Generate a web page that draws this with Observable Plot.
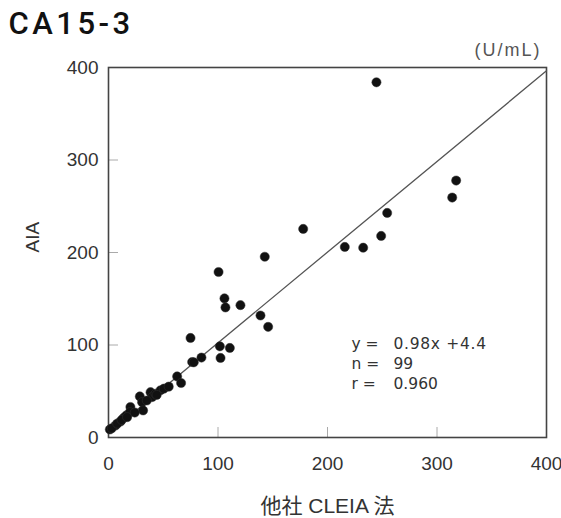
<!DOCTYPE html>
<html><head><meta charset="utf-8">
<script src="https://cdn.jsdelivr.net/npm/d3@7"></script>
<script src="https://cdn.jsdelivr.net/npm/@observablehq/plot@0.6"></script>
<style>
body{margin:0;background:#fff;}
#c{position:relative;width:561px;height:518px;}
</style>
</head><body><div id="c"></div>
<script>
const xValues = [1.2,6.4,11,14,16.4,20,19.5,28.6,30.7,31.6,38.4,39.9,42.9,47.5,50.5,62.7,66.3,76.4,
  74.9,101.7,110.8,102.3,84.9,77.9,
  244.7,317.5,313.9,254.5,249,232.6,215.8,177.8,142.7,100.5,105.9,106.8,120.5,138.8,145.8,
  3,8,12,17,24,35,44,55];
const yValues = [8.7,13,17.3,21.4,24,33,27.4,44.4,38.2,29.3,49,43.7,47.3,51,52.8,66,58.9,81.6,
  107.6,98.6,96.8,86,86.4,81.3,
  384,277.8,259.4,242.8,217.9,205.2,206,225.5,195.4,178.9,150.4,140.6,143.1,131.9,119.6,
  10,15,19,22,27,40,46,55];
const xTicks = [0,100,200,300,400];
const yTicks = [0,100,200,300,400];
const slope = 0.98, intercept = 4.4;
const statNames = ["y =", "n =", "r ="];
const statValues = ["0.98x +4.4", "99", "0.960"];
const title = "CA15-3";
const unit = "(U/mL)";
const xLabel = "他社 CLEIA 法";
const yLabel = "AIA";

const pts = xValues.map((x,i)=>({x, y:yValues[i]}));
const font = "'Liberation Sans', Arial, sans-serif";
const statFont = "'DejaVu Sans', sans-serif";

const chart = Plot.plot({
  width: 561, height: 518,
  marginLeft: 108, marginRight: 15, marginTop: 67, marginBottom: 81,
  style: {fontFamily: font, fontSize: "19px", color: "#333", background: "#fff", overflow: "visible"},
  x: {domain: [0,400], ticks: xTicks},
  y: {domain: [0,400], ticks: yTicks},
  marks: [
    Plot.axisX({ticks: xTicks, tickSize: -10, tickPadding: 29, stroke: "#aaa", fontSize: 19, label: null, fill: "#333"}),
    Plot.axisY({ticks: yTicks, tickSize: -10, tickPadding: 20, stroke: "#aaa", fontSize: 19, label: null, fill: "#333"}),
    Plot.frame({stroke: "#444", strokeWidth: 1.6}),
    Plot.line([xTicks[0], xTicks[xTicks.length-1]], {x: d=>d, y: d=>slope*d+intercept, stroke: "#555", strokeWidth: 1.3}),
    Plot.dot(pts, {x: "x", y: "y", r: 4.6, fill: "#111", stroke: "#333", strokeWidth: 0.5}),
    Plot.text([statNames.join("\n")], {frameAnchor: "top-left", dx: 243, dy: 295, lineAnchor: "middle", textAnchor: "start", lineHeight: 1.29, fontSize: 15.5, fill: "#333", fontFamily: statFont}),
    Plot.text([statValues.join("\n")], {frameAnchor: "top-left", dx: 285, dy: 295, lineAnchor: "middle", textAnchor: "start", lineHeight: 1.29, fontSize: 15.5, fill: "#333", fontFamily: statFont}),
    Plot.text([title], {frameAnchor: "top-left", dx: -100, dy: -43, textAnchor: "start", lineAnchor: "middle", fontSize: 31, fontWeight: 500, fill: "#111", fontFamily: "Roboto, 'Liberation Sans', sans-serif"}),
    Plot.text([unit], {frameAnchor: "top-right", dx: -5, dy: -17, textAnchor: "end", lineAnchor: "middle", fontSize: 18, fill: "#555"}),
    Plot.text([xLabel], {frameAnchor: "bottom", dy: 69, lineAnchor: "middle", fontSize: 21, fill: "#333", fontFamily: "'Liberation Sans', 'Noto Sans CJK JP', sans-serif"}),
    Plot.text([yLabel], {frameAnchor: "left", dx: -76, rotate: -90, lineAnchor: "middle", fontSize: 19, fill: "#333"})
  ]
});
// letter spacing tweaks (style only)
const spacing = {[title]: "3.5px", [unit]: "2px", [statValues[0]]: "0.7px"};
chart.querySelectorAll("text, tspan").forEach(t => {
  const s = spacing[t.textContent];
  if (s) t.setAttribute("letter-spacing", s);
});
document.getElementById("c").appendChild(chart);
</script>
</body></html>
